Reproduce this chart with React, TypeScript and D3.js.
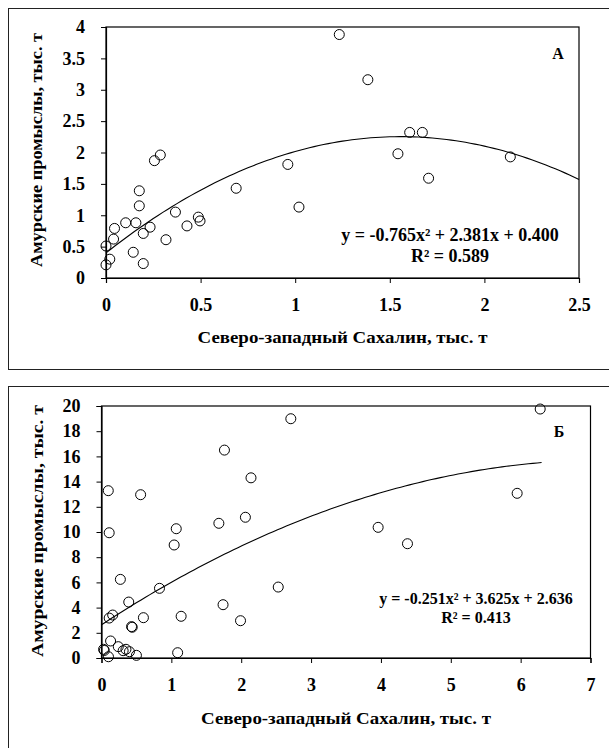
import React, { useRef, useEffect } from "react";
import * as d3 from "d3";

// Panel A: Северо-западный Сахалин (x) vs Амурские промыслы (y), тыс. т
const xA = [0.0, 0.02, 0.0, 0.04, 0.045, 0.104, 0.158, 0.144, 0.176, 0.176, 0.197, 0.197, 0.233, 0.256, 0.287, 0.317, 0.367, 0.428, 0.488, 0.497, 0.688, 0.961, 1.02, 1.233, 1.384, 1.605, 1.672, 1.543, 1.705, 2.137];
const yA = [0.51, 0.3, 0.21, 0.62, 0.79, 0.88, 0.88, 0.41, 1.39, 1.15, 0.71, 0.23, 0.81, 1.87, 1.96, 0.61, 1.05, 0.83, 0.97, 0.91, 1.43, 1.81, 1.13, 3.88, 3.16, 2.32, 2.32, 1.98, 1.59, 1.93];
const coefA = [-0.765, 2.381, 0.4];
const xTicksA = [0, 0.5, 1, 1.5, 2, 2.5];
const yTicksA = [0, 0.5, 1, 1.5, 2, 2.5, 3, 3.5, 4];

// Panel Б
const xB = [2.71, 1.76, 2.14, 0.097, 0.56, 1.68, 2.06, 1.07, 1.04, 0.11, 0.27, 0.83, 2.53, 0.39, 1.74, 1.99, 1.14, 0.6, 0.16, 0.11, 0.43, 0.44, 0.13, 0.24, 0.03, 0.04, 0.1, 0.31, 0.35, 0.4, 0.5, 1.09, 6.28, 5.95, 3.96, 4.38];
const yB = [18.99, 16.5, 14.3, 13.28, 12.96, 10.69, 11.17, 10.26, 8.97, 9.94, 6.24, 5.53, 5.63, 4.44, 4.23, 2.96, 3.31, 3.2, 3.41, 3.17, 2.49, 2.44, 1.35, 0.9, 0.69, 0.6, 0.1, 0.58, 0.69, 0.5, 0.21, 0.42, 19.76, 13.07, 10.37, 9.07];
const coefB = [-0.251, 3.625, 2.636];
const xTicksB = [0, 1, 2, 3, 4, 5, 6, 7];
const yTicksB = [0, 2, 4, 6, 8, 10, 12, 14, 16, 18, 20];

const FONT = "'Liberation Serif', 'Times New Roman', serif";

function drawPanel(svg, o) {
  const g = svg.append("g");
  g.append("rect")
    .attr("x", o.box[0]).attr("y", o.box[1])
    .attr("width", o.box[2]).attr("height", o.box[3])
    .attr("fill", "#fff").attr("stroke", "#222").attr("stroke-width", 1);

  const x = d3.scaleLinear().domain(o.xDomain).range([o.left, o.right]);
  const y = d3.scaleLinear().domain(o.yDomain).range([o.bottom, o.top]);

  // plot frame
  g.append("rect")
    .attr("x", o.left).attr("y", o.top)
    .attr("width", o.right - o.left).attr("height", o.bottom - o.top)
    .attr("fill", "none").attr("stroke", "#000").attr("stroke-width", 1.2);

  const xAxis = g.append("g")
    .attr("transform", `translate(0,${o.bottom})`)
    .call(d3.axisBottom(x).tickValues(o.xTicks).tickSize(5).tickPadding(15).tickFormat(d => String(d)));
  const yAxis = g.append("g")
    .attr("transform", `translate(${o.left},0)`)
    .call(d3.axisLeft(y).tickValues(o.yTicks).tickSize(5).tickPadding(16).tickFormat(d => String(d)));
  [xAxis, yAxis].forEach(ax => {
    ax.select(".domain").attr("stroke", "#000").attr("stroke-width", 1.2);
    ax.selectAll("line").attr("stroke", "#000");
    ax.selectAll("text")
      .attr("font-family", FONT).attr("font-weight", "bold")
      .attr("font-size", 18).attr("fill", "#000");
  });

  // trend line
  const [a, b, c] = o.coef;
  const xs = d3.range(0, 101).map(i => o.fitMax * i / 100);
  g.append("path")
    .datum(xs)
    .attr("fill", "none").attr("stroke", "#000").attr("stroke-width", 1.1)
    .attr("d", d3.line().x(d => x(d)).y(d => y(a * d * d + b * d + c)));

  g.append("g").selectAll("circle")
    .data(o.xs.map((v, i) => [v, o.ys[i]]))
    .join("circle")
    .attr("cx", d => x(d[0])).attr("cy", d => y(d[1]))
    .attr("r", 5)
    .attr("fill", "none").attr("stroke", "#000").attr("stroke-width", 1);

  const txt = (s, tx, ty, size, extra = {}) => {
    const t = g.append("text").attr("x", tx).attr("y", ty)
      .attr("font-family", FONT).attr("font-weight", "bold")
      .attr("font-size", size).attr("fill", "#000")
      .attr("text-anchor", "middle").text(s);
    Object.entries(extra).forEach(([k, v]) => t.attr(k, v));
    return t;
  };

  txt(o.letter, o.letterPos[0], o.letterPos[1], 16);
  txt(o.eq, o.eqPos[0], o.eqPos[1], o.eqSize);
  txt(o.r2, o.eqPos[0], o.eqPos[1] + o.eqSize + 3, o.eqSize);
  txt("Северо-западный Сахалин, тыс. т", (o.left + o.right) / 2, o.xTitleY, 17,
    { textLength: 290, lengthAdjust: "spacingAndGlyphs" });
  txt("Амурские промыслы, тыс. т", 0, 0, 17, {
    transform: `translate(${o.yTitleX},${o.yTitleY}) rotate(-90)`,
    textLength: o.yTitleLen,
    lengthAdjust: "spacingAndGlyphs",
  });
}

export default function App() {
  const ref = useRef(null);

  useEffect(() => {
    const svg = d3.select(ref.current);
    svg.selectAll("*").remove();

    drawPanel(svg, {
      box: [8.5, 8.5, 610, 361],
      left: 106, right: 579, top: 27, bottom: 278,
      xDomain: [0, 2.5], yDomain: [0, 4],
      xTicks: xTicksA, yTicks: yTicksA,
      xs: xA, ys: yA, coef: coefA, fitMax: 2.5,
      letter: "А", letterPos: [558, 59],
      eq: "y = -0.765x² + 2.381x + 0.400", r2: "R² = 0.589", eqPos: [450, 241], eqSize: 18,
      xTitleY: 343, yTitleX: 42, yTitleY: 150, yTitleLen: 234,
    });

    drawPanel(svg, {
      box: [8.5, 386.5, 610, 380],
      left: 101.5, right: 590.5, top: 406, bottom: 658,
      xDomain: [0, 7], yDomain: [0, 20],
      xTicks: xTicksB, yTicks: yTicksB,
      xs: xB, ys: yB, coef: coefB, fitMax: 6.3,
      letter: "Б", letterPos: [559, 437],
      eq: "y = -0.251x² + 3.625x + 2.636", r2: "R² = 0.413", eqPos: [476, 604], eqSize: 16,
      xTitleY: 724, yTitleX: 43, yTitleY: 531, yTitleLen: 252,
    });
  }, []);

  return (
    <svg ref={ref} width={609} height={748}
      style={{ position: "absolute", left: 0, top: 0, display: "block", background: "#fff" }} />
  );
}
